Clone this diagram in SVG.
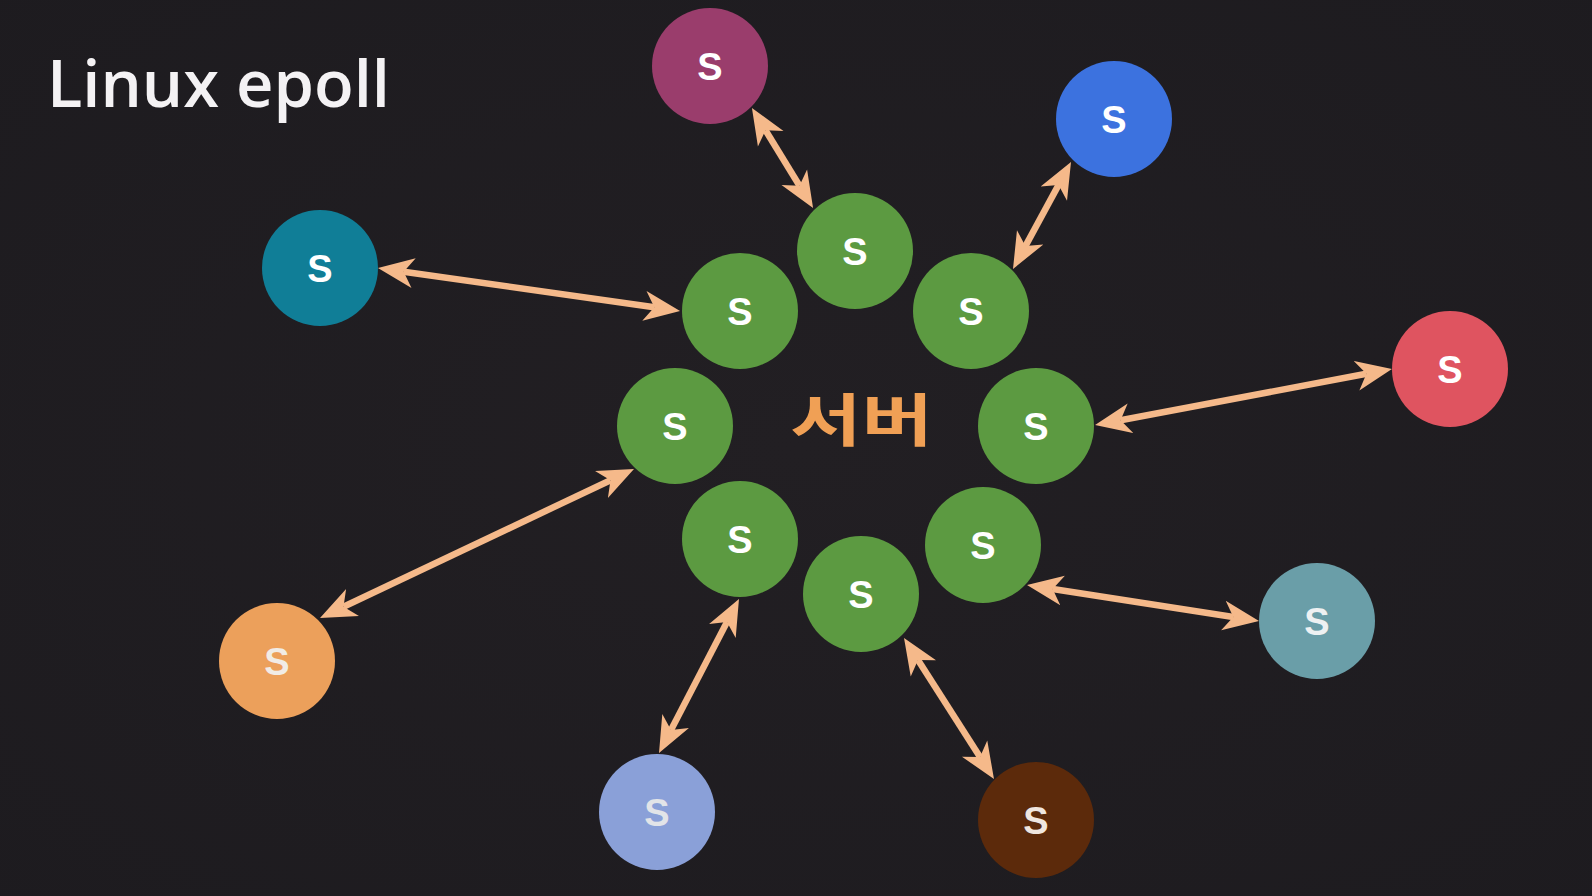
<svg xmlns="http://www.w3.org/2000/svg" width="1592" height="896" viewBox="0 0 1592 896">
<defs>
<radialGradient id="bg" cx="50%" cy="50%" r="75%">
<stop offset="0%" stop-color="#221f23"/>
<stop offset="100%" stop-color="#1d1b1f"/>
</radialGradient>
<marker id="ah" viewBox="0 -16 38 32" markerUnits="userSpaceOnUse" markerWidth="38" markerHeight="32" refX="10" refY="0" orient="auto-start-reverse">
<path d="M36,0 L0,-15 L10,0 L0,15 Z" fill="#f5b98a"/>
</marker>
<style>
.node circle{stroke:none}
.node text{font-family:"Liberation Sans",Arial,sans-serif;font-weight:bold;font-size:38px;text-anchor:middle;fill:#ffffff}
.g circle{fill:#5c9a41}
.conn line{stroke:#f5b98a;stroke-width:6.5;marker-start:url(#ah);marker-end:url(#ah)}
</style>
</defs>
<rect x="0" y="0" width="1592" height="896" fill="url(#bg)"/>
<text id="title" x="47" y="107" font-family="'Open Sans','DejaVu Sans',sans-serif" font-weight="600" font-size="66" fill="#f4f2f4" textLength="343" lengthAdjust="spacingAndGlyphs">Linux epoll</text>
<text id="server" x="790" y="441" font-family="'Noto Sans CJK KR',sans-serif" font-weight="bold" font-size="57" fill="#f0a055" textLength="143" lengthAdjust="spacingAndGlyphs">서버</text>
<g class="conn" id="connectors">
<line x1="765.5" y1="130.2" x2="799.5" y2="185.8"/>
<line x1="1058.6" y1="184.9" x2="1025.4" y2="246.1"/>
<line x1="403.7" y1="271.7" x2="654.3" y2="307.3"/>
<line x1="1366.4" y1="373.8" x2="1120.6" y2="420.2"/>
<line x1="610.5" y1="480.2" x2="343.5" y2="606.8"/>
<line x1="1052.7" y1="589" x2="1233.3" y2="617"/>
<line x1="727" y1="622.1" x2="671" y2="729.9"/>
<line x1="918" y1="659.9" x2="980" y2="757.1"/>
</g>
<g class="node g" id="g1"><circle cx="855" cy="251" r="58"/><text x="855" y="265">S</text></g>
<g class="node g" id="g2"><circle cx="740" cy="311" r="58"/><text x="740" y="325">S</text></g>
<g class="node g" id="g3"><circle cx="971" cy="311" r="58"/><text x="971" y="325">S</text></g>
<g class="node g" id="g4"><circle cx="675" cy="426" r="58"/><text x="675" y="440">S</text></g>
<g class="node g" id="g5"><circle cx="1036" cy="426" r="58"/><text x="1036" y="440">S</text></g>
<g class="node g" id="g6"><circle cx="740" cy="539" r="58"/><text x="740" y="553">S</text></g>
<g class="node g" id="g7"><circle cx="983" cy="545" r="58"/><text x="983" y="559">S</text></g>
<g class="node g" id="g8"><circle cx="861" cy="594" r="58"/><text x="861" y="608">S</text></g>
<g class="node" id="magenta"><circle cx="710" cy="66" r="58" fill="#9a3d6c"/><text x="710" y="80">S</text></g>
<g class="node" id="blue"><circle cx="1114" cy="119" r="58" fill="#3c72df"/><text x="1114" y="133">S</text></g>
<g class="node" id="teal"><circle cx="320" cy="268" r="58" fill="#107e97"/><text x="320" y="282">S</text></g>
<g class="node" id="red"><circle cx="1450" cy="369" r="58" fill="#df5460"/><text x="1450" y="383">S</text></g>
<g class="node" id="orange"><circle cx="277" cy="661" r="58" fill="#eca05b"/><text x="277" y="675" style="fill:#f1ece6">S</text></g>
<g class="node" id="steel"><circle cx="1317" cy="621" r="58" fill="#6a9ea8"/><text x="1317" y="635" style="fill:#eef1f2">S</text></g>
<g class="node" id="lightblue"><circle cx="657" cy="812" r="58" fill="#8aa0d8"/><text x="657" y="826" style="fill:#e2e4e8">S</text></g>
<g class="node" id="brown"><circle cx="1036" cy="820" r="58" fill="#5c2a0b"/><text x="1036" y="834" style="fill:#efe6e0">S</text></g>
</svg>
